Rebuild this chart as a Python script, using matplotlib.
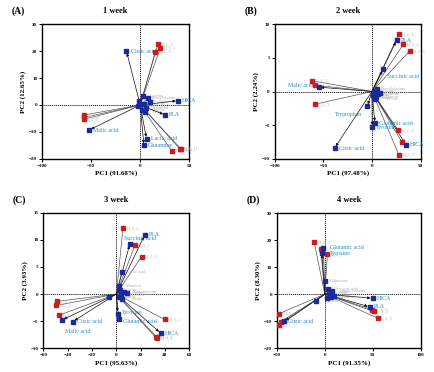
import matplotlib
matplotlib.use('Agg')
import matplotlib.pyplot as plt

plt.rcParams['font.family'] = ['Liberation Serif', 'DejaVu Serif']

# ---- panel A : 1 week ----
a_var_names = ['Citric acid', 'Malic acid', 'HICA', 'PLA', 'Lactic acid', 'Glutamine']
a_var_x = [-14, -52, 38.5, 25.4, 6.5, 3.8]
a_var_y = [20, -9.3, 1.6, -3.7, -12.6, -15]
a_smp_names = ['H_1_1', 'H_1_2', 'H_1_3', 'L_1_1', 'L_1_2', 'L_1_3', 'M_1_1', 'M_1_2', 'M_1_3']
a_smp_x = [18, 20.6, 15.5, -57, -57, -57.5, 40.5, 42, 32]
a_smp_y = [22.5, 21.2, 19.8, -3.7, -4.6, -5.3, -16.3, -16.5, -17]
a_min_names = ['Phenylalanine', 'Leucine', 'Valine', 'Alanine', 'Mannitol', 'Glycine', 'Isoleucine', 'Serine', 'Acetic acid']
a_min_x = [8, 3, 10, -1, 6, 2, 4, 5, -2]
a_min_y = [2.5, 3.5, 1, 1.5, -1, -2, 0.5, -2.5, -0.5]

# ---- panel B : 2 week ----
b_var_names = ['PLA', 'Succinic acid', 'Malic acid', 'Tryptophan', 'Glutamic acid', 'Tyrosine', 'HICA', 'Citric acid']
b_var_x = [25.3, 11.6, -54.8, -4.8, 3.1, 0.3, 35, -38.4]
b_var_y = [7.6, 3.3, 0.65, -2.2, -4.7, -5.3, -7.9, -8.4]
b_smp_names = ['H_2_1', 'H_2_2', 'H_2_3', 'L_2_1', 'L_2_2', 'L_2_3', 'M_2_1', 'M_2_2', 'M_2_3']
b_smp_x = [27.4, 32.2, 38.7, -61.6, -59, -59, 26.7, 30.8, 27.7]
b_smp_y = [8.5, 7.0, 6.0, 1.6, 0.95, -1.9, -5.7, -7.5, -9.4]
b_min_names = ['Phenylalanine', 'Leucine', 'Valine', 'Alanine', 'Mannitol', 'Glycine', 'Isoleucine', 'Serine']
b_min_x = [5, 2, 8, 1, 4, 3, 6, 2]
b_min_y = [0.3, 0.1, -0.2, -0.5, -0.8, -1.1, -0.4, -0.9]

# ---- panel C : 3 week ----
c_var_names = ['PLA', 'Succinic acid', 'Malic acid', 'Citric acid', 'Tyrosine', 'Glutamic acid', 'HICA']
c_var_x = [23.3, 11.2, -44.7, -35.9, 1.1, 1.9, 36.4]
c_var_y = [10.9, 9.3, -4.8, -5.1, -3.6, -4.6, -7.2]
c_smp_names = ['H_3_2', 'H_3_1', 'H_3_3', 'L_3_1', 'L_3_2', 'L_3_3', 'M_3_1', 'M_3_2', 'M_3_3']
c_smp_x = [5.5, 15.3, 20.8, -48.5, -49.3, -47, 39.7, 33, 33.2]
c_smp_y = [12.1, 9.0, 6.9, -1.35, -2.1, -3.9, -4.7, -7.9, -8.2]
c_min_names = ['Lactic acid', 'Mannitol', 'Phenylalanine', 'Leucine', 'Valine', 'Alanine', 'Glycine', 'Isoleucine', 'Serine']
c_min_x = [4.4, 2, 6, 3, 9, -6.3, 2, 4, 5]
c_min_y = [4.0, 1.4, 0.4, 0.8, 0.1, -0.6, -0.5, -0.2, -0.9]

# ---- panel D : 4 week ----
d_var_names = ['Glutamic acid', 'Tyrosine', 'HICA', 'PLA', 'Citric acid']
d_var_x = [-1.4, -3.1, 50, 47, -42.8]
d_var_y = [17.2, 15.4, -1.5, -4.7, -10.1]
d_smp_names = ['H_4_2', 'H_4_1', 'H_4_3', 'L_4_1', 'L_4_2', 'L_4_3', 'M_4_1', 'M_4_2', 'M_4_3']
d_smp_x = [-11.1, -4.2, 2.8, 49.4, 51.2, 55.3, -47.7, -46, -47.3]
d_smp_y = [19.3, 16.9, 14.9, -5.7, -6.4, -8.9, -7.2, -10.2, -11.5]
d_min_names = ['Methionine', 'Succinic acid', 'Phenylalanine', 'Leucine', 'Valine', 'Alanine', 'Glycine', 'Isoleucine', 'Serine']
d_min_x = [0.3, 3, 8, 5, 10, -8.7, 2, 6, 4]
d_min_y = [4.8, 2, 1.2, 0.5, -0.5, -2.6, -1.5, -1, 0.8]

BLUE = '#1b2a9a'
RED = '#c81e1e'
LBLUE = '#2b8cc4'
GRAY = '#b4b4b4'

panels = [
    dict(tag='(A)', title='1 week', pos=[0.097, 0.573, 0.339, 0.362],
         xlim=(-100, 50), ylim=(-20, 30), xt=[-100, -50, 0, 50], yt=[-20, -10, 0, 10, 20, 30],
         xl='PC1 (91.68%)', yl='PC2 (12.65%)',
         var=(a_var_names, a_var_x, a_var_y), smp=(a_smp_names, a_smp_x, a_smp_y),
         mnr=(a_min_names, a_min_x, a_min_y),
         left_labels=[]),
    dict(tag='(B)', title='2 week', pos=[0.633, 0.573, 0.336, 0.362],
         xlim=(-100, 50), ylim=(-10, 10), xt=[-100, -50, 0, 50], yt=[-10, -5, 0, 5, 10],
         xl='PC1 (97.48%)', yl='PC2 (2.24%)',
         var=(b_var_names, b_var_x, b_var_y), smp=(b_smp_names, b_smp_x, b_smp_y),
         mnr=(b_min_names, b_min_x, b_min_y),
         left_labels=['Malic acid', 'Tryptophan']),
    dict(tag='(C)', title='3 week', pos=[0.100, 0.064, 0.336, 0.364],
         xlim=(-60, 60), ylim=(-10, 15), xt=[-60, -40, -20, 0, 20, 40, 60], yt=[-10, -5, 0, 5, 10, 15],
         xl='PC1 (95.63%)', yl='PC2 (3.93%)',
         var=(c_var_names, c_var_x, c_var_y), smp=(c_smp_names, c_smp_x, c_smp_y),
         mnr=(c_min_names, c_min_x, c_min_y),
         left_labels=[]),
    dict(tag='(D)', title='4 week', pos=[0.638, 0.064, 0.331, 0.363],
         xlim=(-50, 100), ylim=(-20, 30), xt=[-50, 0, 50, 100], yt=[-20, -10, 0, 10, 20, 30],
         xl='PC1 (91.35%)', yl='PC2 (8.30%)',
         var=(d_var_names, d_var_x, d_var_y), smp=(d_smp_names, d_smp_x, d_smp_y),
         mnr=(d_min_names, d_min_x, d_min_y),
         left_labels=[]),
]

# label nudges in points for the few labels that sit elsewhere
nudge = {('(B)', 'Malic acid'): (-4, 1), ('(B)', 'Tryptophan'): (-4, -6),
         ('(C)', 'Malic acid'): (2, -8), ('(C)', 'Succinic acid'): (-4, 4),
         ('(C)', 'Glutamic acid'): (3, -2), ('(C)', 'Tyrosine'): (3, 1),
         ('(B)', 'Succinic acid'): (3, -5), ('(D)', 'Glutamic acid'): (5, 0),
         ('(D)', 'Tyrosine'): (6, -1)}

fig = plt.figure(figsize=(4.34, 3.72), dpi=100)

for p in panels:
    ax = fig.add_axes(p['pos'])
    ax.set_xlim(*p['xlim'])
    ax.set_ylim(*p['ylim'])
    ax.axhline(0, color='k', ls=(0, (1, 1)), lw=0.7, zorder=1)
    ax.axvline(0, color='k', ls=(0, (1, 1)), lw=0.7, zorder=1)

    # minor loadings crowded near the origin
    names, xs, ys = p['mnr']
    for i, (n, x, y) in enumerate(zip(names, xs, ys)):
        ax.plot([0, x], [0, y], color='#555555', lw=0.4, zorder=2)
        ax.plot(x, y, 's', color=BLUE, ms=2.2, zorder=4)
        ax.annotate(n, (x, y), xytext=(3 + 2 * (i % 3), 0), textcoords='offset points',
                    fontsize=3.2, color=GRAY, va='center')

    # samples
    names, xs, ys = p['smp']
    for n, x, y in zip(names, xs, ys):
        ax.plot([0, x], [0, y], color='#444444', lw=0.45, zorder=2)
        ax.plot(x, y, 's', color=RED, ms=2.3, zorder=4)
        ax.annotate(n, (x, y), xytext=(2.5, 0), textcoords='offset points',
                    fontsize=3.3, color=GRAY, va='center')

    # main variables with arrows
    names, xs, ys = p['var']
    for n, x, y in zip(names, xs, ys):
        ax.annotate('', xy=(x, y), xytext=(0, 0),
                    arrowprops=dict(arrowstyle='-|>', color='#111111', lw=0.5,
                                    mutation_scale=4, shrinkA=0, shrinkB=1.5), zorder=3)
        ax.plot(x, y, 's', color=BLUE, ms=2.5, zorder=5)
        dx, dy = nudge.get((p['tag'], n), (3, 0))
        ha = 'right' if n in p['left_labels'] else 'left'
        ax.annotate(n, (x, y), xytext=(dx, dy), textcoords='offset points',
                    fontsize=4.2, color=LBLUE, va='center', ha=ha)

    ax.set_xticks(p['xt'])
    ax.set_yticks(p['yt'])
    ax.tick_params(labelsize=3.6, length=2, width=0.7, pad=1.5)
    for lab in ax.get_xticklabels() + ax.get_yticklabels():
        lab.set_fontweight('bold')
    for s in ax.spines.values():
        s.set_linewidth(1.0)
    ax.set_xlabel(p['xl'], fontsize=5, fontweight='bold', labelpad=2)
    ax.set_ylabel(p['yl'], fontsize=5, fontweight='bold', labelpad=2)
    ax.set_title(p['title'], fontsize=6, fontweight='bold', pad=8)

    fig.text(p['pos'][0] - 0.07, p['pos'][1] + p['pos'][3] + 0.035, p['tag'],
             fontsize=7, fontweight='bold', ha='left', va='center')

fig.savefig('out.png', dpi=100)
